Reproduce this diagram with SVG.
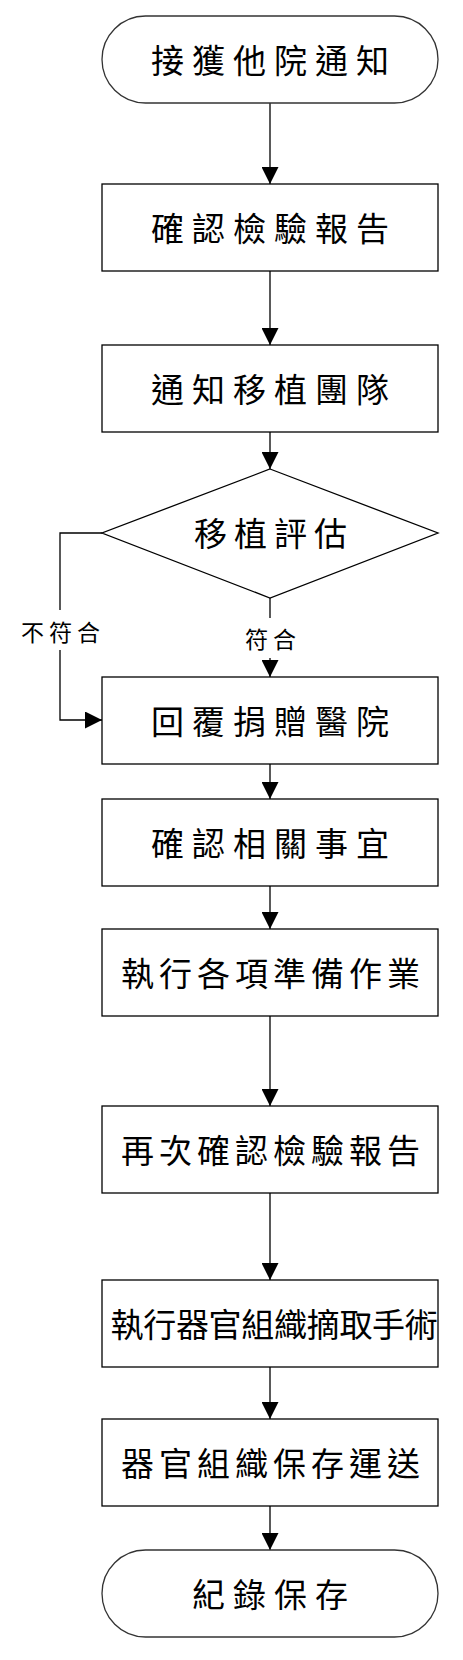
<svg xmlns="http://www.w3.org/2000/svg" width="463" height="1660" viewBox="0 0 463 1660">
<defs>
<marker id="arr" markerUnits="userSpaceOnUse" markerWidth="17" markerHeight="17" viewBox="0 0 16 16" refX="16" refY="8" orient="auto">
<path d="M0,0 L16,8 L0,16 Z" fill="#000"/>
</marker>
</defs>
<style>
.shape{fill:#fff;stroke:#000;stroke-width:1.3}
.term{fill:#fff;stroke:#333;stroke-width:1.3}
.t{font-family:"Noto Sans CJK TC","Noto Sans CJK SC",sans-serif;font-size:33px;fill:#000;text-anchor:middle;dominant-baseline:central}
.lbl{font-family:"Noto Sans CJK TC","Noto Sans CJK SC",sans-serif;font-size:23px;fill:#000;text-anchor:middle;dominant-baseline:central;letter-spacing:5px}
.c{fill:none;stroke:#000;stroke-width:1.3}
</style>
<rect width="463" height="1660" fill="#fff"/>
<g id="connectors">
<path class="c" d="M270,103 V184" marker-end="url(#arr)"/>
<path class="c" d="M270,271 V345" marker-end="url(#arr)"/>
<path class="c" d="M270,432 V469" marker-end="url(#arr)"/>
<path class="c" d="M270,598 V618"/>
<path class="c" d="M270,658 V677" marker-end="url(#arr)"/>
<path class="c" d="M102,533 H60 V610"/>
<path class="c" d="M60,650 V720 H102" marker-end="url(#arr)"/>
<path class="c" d="M270,764 V799" marker-end="url(#arr)"/>
<path class="c" d="M270,886 V929" marker-end="url(#arr)"/>
<path class="c" d="M270,1016 V1106" marker-end="url(#arr)"/>
<path class="c" d="M270,1193 V1280" marker-end="url(#arr)"/>
<path class="c" d="M270,1367 V1419" marker-end="url(#arr)"/>
<path class="c" d="M270,1506 V1550" marker-end="url(#arr)"/>
<text class="lbl" x="63" y="631">不符合</text>
<text class="lbl" x="273" y="638">符合</text>
</g>
<g id="n1"><rect class="term" x="102" y="16" width="336" height="87" rx="43.5"/><text class="t" x="274" y="59" letter-spacing="8">接獲他院通知</text></g>
<g id="n2"><rect class="shape" x="102" y="184" width="336" height="87"/><text class="t" x="274" y="227" letter-spacing="8">確認檢驗報告</text></g>
<g id="n3"><rect class="shape" x="102" y="345" width="336" height="87"/><text class="t" x="274" y="388" letter-spacing="8">通知移植團隊</text></g>
<g id="n4"><polygon class="shape" points="270,469 438,533 270,598 102,533"/><text class="t" x="274" y="532" letter-spacing="7">移植評估</text></g>
<g id="n5"><rect class="shape" x="102" y="677" width="336" height="87"/><text class="t" x="274" y="720" letter-spacing="8">回覆捐贈醫院</text></g>
<g id="n6"><rect class="shape" x="102" y="799" width="336" height="87"/><text class="t" x="274" y="842" letter-spacing="8">確認相關事宜</text></g>
<g id="n7"><rect class="shape" x="102" y="929" width="336" height="87"/><text class="t" x="273" y="972" letter-spacing="5">執行各項準備作業</text></g>
<g id="n8"><rect class="shape" x="102" y="1106" width="336" height="87"/><text class="t" x="273" y="1149" letter-spacing="5">再次確認檢驗報告</text></g>
<g id="n9"><rect class="shape" x="102" y="1280" width="336" height="87"/><text class="t" x="274" y="1323" letter-spacing="-0.3">執行器官組織摘取手術</text></g>
<g id="n10"><rect class="shape" x="102" y="1419" width="336" height="87"/><text class="t" x="273" y="1462" letter-spacing="5">器官組織保存運送</text></g>
<g id="n11"><rect class="term" x="102" y="1550" width="336" height="87" rx="43.5"/><text class="t" x="274" y="1593" letter-spacing="8">紀錄保存</text></g>
</svg>
